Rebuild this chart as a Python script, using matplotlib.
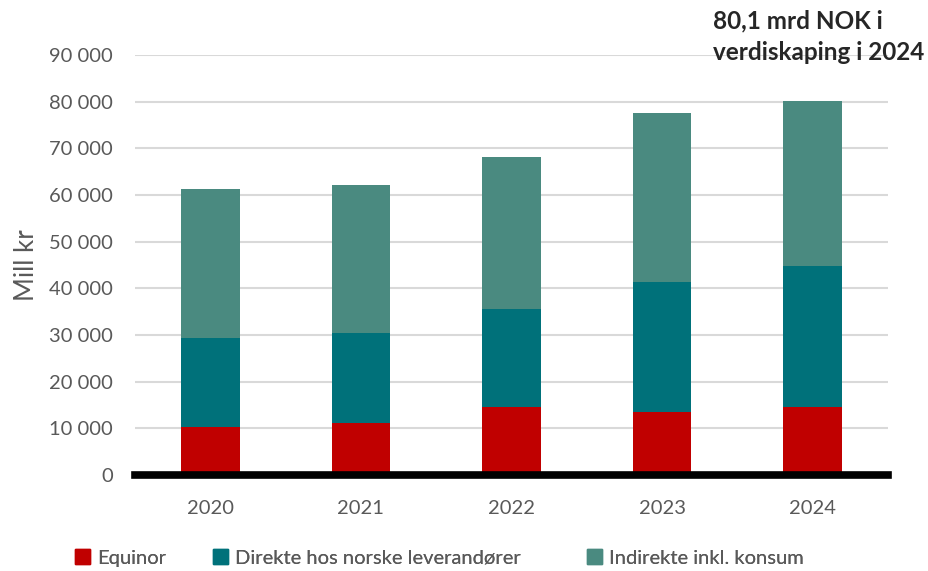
import matplotlib.pyplot as plt
from matplotlib.patches import Patch
import numpy as np

plt.rcParams['font.family'] = ['Lato', 'DejaVu Sans']

# value creation per year, million NOK
years = ['2020', '2021', '2022', '2023', '2024']
equinor = [10300, 11100, 14600, 13600, 14600]
direkte = [19000, 19300, 20900, 27800, 30200]
indirekte = [32000, 31700, 32700, 36100, 35300]

labels = ['Equinor', 'Direkte hos norske leverandører', 'Indirekte inkl. konsum']
colors = ['#C00000', '#00717A', '#4A8A80']
grey = '#595959'

fig = plt.figure(figsize=(9.29, 5.71), dpi=100)
ax = fig.add_axes([135 / 929, 96 / 571, 753 / 929, 420 / 571])

x = np.arange(len(years))
width = 0.39
bottom = np.zeros(len(years))
for vals, lab, col in zip([equinor, direkte, indirekte], labels, colors):
    ax.bar(x, vals, width, bottom=bottom, color=col, label=lab, zorder=2)
    bottom += np.array(vals)

ax.set_xlim(-0.5, len(years) - 0.5)
ax.set_ylim(0, 90000)
ax.set_yticks(np.arange(0, 90001, 10000))
ax.set_yticklabels([f'{v:,}'.replace(',', ' ') for v in range(0, 90001, 10000)])
ax.set_xticks(x)
ax.set_xticklabels(years)
ax.yaxis.grid(True, color='#D9D9D9', lw=1.5, zorder=0)
ax.set_axisbelow(True)

for s in ['top', 'right', 'left']:
    ax.spines[s].set_visible(False)
ax.spines['bottom'].set_linewidth(5.5)
ax.spines['bottom'].set_color('black')
ax.spines['bottom'].set_zorder(3)

ax.tick_params(axis='both', length=0, labelsize=14.5, labelcolor=grey)
ax.tick_params(axis='y', pad=16)
ax.tick_params(axis='x', pad=18)

fig.text(27 / 929, 1 - 265 / 571, 'Mill kr', rotation=90, ha='center', va='center',
         fontsize=18.5, color=grey)

# legend entries placed one by one, spaced like the original chart
legend_x = [75, 213, 587]
for lab, col, lx in zip(labels, colors, legend_x):
    leg = fig.legend(handles=[Patch(color=col, label=lab)], loc='center left',
                     bbox_to_anchor=(lx / 929, 1 - 558 / 571), frameon=False,
                     fontsize=14.5, labelcolor=grey, handlelength=0.75, handleheight=0.75,
                     handletextpad=0.35, borderpad=0, borderaxespad=0)
    fig.add_artist(leg)

fig.text(713 / 929, 1 - 9 / 571, '80,1 mrd NOK i\nverdiskaping i 2024', ha='left', va='top',
         fontsize=17.5, fontweight='bold', color='#262626', linespacing=1.5)

fig.savefig('out.png', dpi=100, facecolor='white')
